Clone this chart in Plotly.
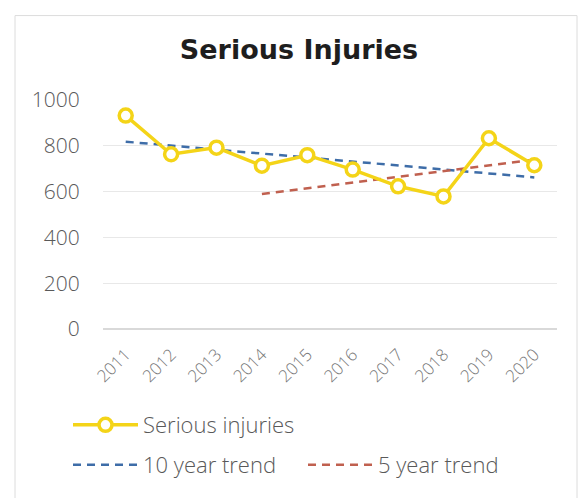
import plotly.graph_objects as go

# Annual serious injury counts
years = ["2011", "2012", "2013", "2014", "2015", "2016", "2017", "2018", "2019", "2020"]
serious_injuries = [932, 763, 792, 713, 759, 696, 623, 579, 833, 715]

# Trend lines (end points)
trend10_years = ["2011", "2020"]
trend10_values = [818, 662]
trend5_years = ["2014", "2020"]
trend5_values = [590, 739]

y_ticks = [0, 200, 400, 600, 800, 1000]

W, H = 580, 498
L, R, T, B = 103, 23, 100, 162
pw, ph = W - L - R, H - T - B


def px_x(p):
    return (p - L) / pw


def px_y(p):
    return (H - B - p) / ph


LIGHT = "Open Sans"
TXT = "#595959"

fig = go.Figure()

fig.add_trace(go.Scatter(
    x=trend10_years, y=trend10_values, mode="lines", name="10 year trend",
    line=dict(color="#3E6DA8", width=2.5, dash="8px,6px"),
    legend="legend2",
))
fig.add_trace(go.Scatter(
    x=trend5_years, y=trend5_values, mode="lines", name="5 year trend",
    line=dict(color="#C0604F", width=2.5, dash="8px,6px"),
    legend="legend2",
))
fig.add_trace(go.Scatter(
    x=years, y=serious_injuries, mode="lines+markers", name="Serious injuries",
    line=dict(color="#F4D418", width=3.5),
    marker=dict(size=13, color="white", line=dict(color="#F4D418", width=3.5)),
    legend="legend",
))

fig.update_layout(
    width=W, height=H,
    margin=dict(l=L, r=R, t=T, b=B),
    paper_bgcolor="white", plot_bgcolor="white",
    title=dict(
        text="<b>Serious Injuries</b>",
        x=299 / W, xanchor="center",
        y=1 - 50 / H, yanchor="middle",
        font=dict(family="DejaVu Sans", size=27, color="#1e1e1e"),
    ),
    showlegend=True,
    legend=dict(
        x=px_x(68), y=px_y(435), xanchor="left", yanchor="middle",
        orientation="h", itemwidth=65,
        font=dict(family=LIGHT, size=22, color=TXT, weight=300),
        bgcolor="rgba(0,0,0,0)",
    ),
    legend2=dict(
        x=px_x(68), y=px_y(476), xanchor="left", yanchor="middle",
        orientation="h", itemwidth=65, entrywidth=155,
        font=dict(family=LIGHT, size=22, color=TXT, weight=300),
        bgcolor="rgba(0,0,0,0)",
    ),
    xaxis=dict(
        type="category", categoryorder="array", categoryarray=years,
        range=[-0.5, 9.5],
        tickangle=-45, showgrid=False,
        showline=False, ticks="outside", ticklen=8, tickcolor="rgba(0,0,0,0)",
        tickfont=dict(family=LIGHT, size=17, color="#777777", weight=300),
        fixedrange=True,
    ),
    yaxis=dict(
        range=[0, 1000], tickvals=y_ticks,
        showgrid=True, gridcolor="#e8e8e8", gridwidth=1,
        zeroline=True, zerolinecolor="#d9d9d9", zerolinewidth=1.5,
        showline=False, ticks="outside", ticklen=18, tickcolor="rgba(0,0,0,0)",
        tickfont=dict(family=LIGHT, size=21, color=TXT, weight=300),
        fixedrange=True,
    ),
    shapes=[dict(
        type="rect", xref="paper", yref="paper",
        x0=px_x(15), x1=px_x(577), y0=px_y(520), y1=px_y(13),
        line=dict(color="#dcdcdc", width=1), fillcolor="rgba(0,0,0,0)",
        layer="below",
    )],
)

fig.write_html("out.html")
